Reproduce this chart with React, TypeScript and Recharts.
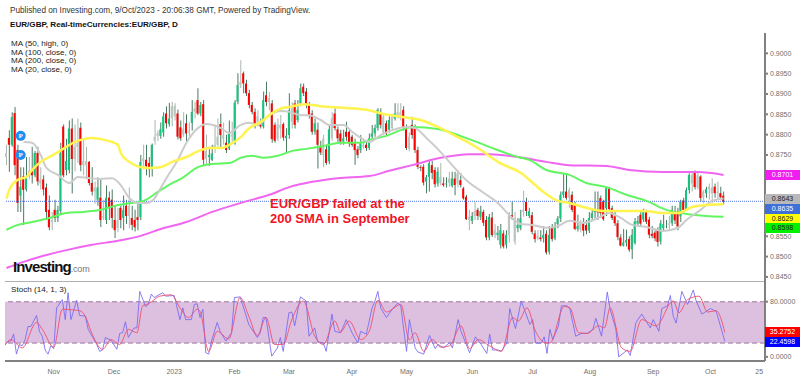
import React from "react";
import {
  ComposedChart,
  Bar,
  Line,
  Cell,
  XAxis,
  YAxis,
  ReferenceLine,
  ReferenceArea,
  ReferenceDot,
} from "recharts";

// prices are in pips (8635 = 0.8635)
const opens = [
  8745,8792,8775,8853,8762,8650,8697,8665,8700,8710,
  8700,8755,8690,8690,8670,8615,8585,8615,8595,8612,
  8820,8713,8713,8815,8740,8770,8817,8725,8735,8733,
  8681,8660,8640,8645,8595,8590,8645,8640,8590,8570,
  8620,8595,8625,8600,8595,8590,8597,8597,8735,8738,
  8730,8715,8785,8797,8797,8805,8852,8826,8840,8870,
  8852,8818,8800,8828,8805,8829,8856,8885,8852,8875,
  8740,8745,8738,8766,8775,8826,8799,8780,8766,8800,
  8779,8881,8922,8951,8926,8902,8873,8856,8830,8832,
  8820,8897,8880,8877,8824,8790,8825,8826,8791,8799,
  8865,8877,8836,8877,8918,8906,8873,8852,8807,8812,
  8769,8750,8764,8734,8791,8852,8813,8803,8783,8807,
  8807,8795,8780,8764,8762,8770,8775,8767,8795,8803,
  8816,8852,8805,8828,8812,8816,8840,8848,8855,8861,
  8816,8765,8824,8816,8762,8720,8721,8685,8696,8725,
  8713,8680,8696,8680,8678,8682,8674,8692,8680,8688,
  8668,8647,8590,8588,8600,8615,8598,8610,8590,8547,
  8596,8553,8553,8529,8557,8529,8553,8602,8537,8570,
  8570,8610,8635,8600,8602,8557,8545,8547,8545,8556,
  8512,8570,8545,8580,8594,8652,8660,8645,8652,8627,
  8568,8566,8581,8578,8564,8595,8609,8613,8644,8636,
  8619,8668,8619,8599,8582,8547,8527,8535,8543,8518,
  8533,8581,8603,8591,8609,8591,8556,8559,8566,8537,
  8570,8580,8578,8582,8611,8611,8599,8638,8617,8664,
  8701,8709,8670,8697,8645,8656,8666,8670,8672,8656,
  8656,8650,
];
const highs = [
  8775,8811,8855,8868,8775,8720,8720,8745,8745,8770,
  8760,8770,8720,8700,8680,8650,8610,8640,8625,8780,
  8825,8790,8835,8840,8825,8840,8830,8790,8770,8735,
  8720,8685,8695,8690,8640,8675,8660,8665,8625,8620,
  8625,8650,8640,8670,8625,8615,8635,8750,8775,8775,
  8745,8778,8836,8810,8830,8855,8870,8878,8881,8877,
  8862,8835,8855,8850,8830,8885,8880,8914,8880,8885,
  8800,8770,8775,8825,8840,8852,8830,8800,8835,8832,
  8885,8951,8983,8955,8935,8910,8880,8865,8860,8840,
  8906,8930,8905,8885,8830,8840,8848,8830,8816,8902,
  8880,8885,8885,8926,8926,8915,8880,8860,8840,8830,
  8785,8800,8775,8825,8855,8865,8820,8812,8812,8832,
  8812,8800,8790,8772,8799,8790,8785,8803,8824,8825,
  8865,8865,8850,8835,8845,8850,8877,8877,8877,8870,
  8825,8805,8844,8825,8770,8725,8727,8701,8737,8735,
  8720,8720,8730,8695,8695,8709,8709,8709,8713,8705,
  8672,8652,8615,8610,8635,8620,8625,8615,8600,8605,
  8610,8580,8575,8580,8565,8565,8610,8635,8610,8595,
  8615,8662,8645,8620,8610,8565,8565,8565,8575,8565,
  8575,8580,8585,8600,8660,8705,8705,8670,8660,8635,
  8603,8590,8595,8590,8610,8615,8660,8660,8650,8640,
  8672,8672,8625,8610,8590,8555,8568,8566,8550,8568,
  8595,8600,8610,8618,8615,8598,8575,8565,8572,8590,
  8603,8590,8600,8625,8625,8620,8640,8645,8670,8705,
  8705,8712,8706,8700,8664,8672,8680,8693,8680,8685,
  8672,8660,
];
const lows = [
  8725,8709,8770,8700,8610,8610,8578,8660,8690,8680,
  8695,8675,8665,8650,8590,8565,8565,8585,8585,8605,
  8695,8700,8705,8655,8710,8730,8710,8700,8690,8675,
  8650,8630,8625,8573,8590,8580,8590,8570,8546,8560,
  8570,8565,8580,8570,8565,8562,8565,8590,8715,8700,
  8695,8697,8775,8785,8790,8795,8815,8820,8820,8835,
  8788,8785,8795,8780,8795,8810,8840,8848,8845,8725,
  8725,8723,8735,8755,8770,8766,8775,8755,8762,8780,
  8775,8875,8915,8902,8895,8865,8850,8815,8820,8815,
  8815,8870,8860,8780,8780,8785,8790,8785,8754,8790,
  8815,8815,8830,8870,8895,8865,8840,8800,8800,8717,
  8750,8720,8726,8728,8785,8810,8780,8775,8775,8785,
  8770,8770,8726,8742,8755,8765,8760,8762,8790,8795,
  8810,8815,8800,8798,8805,8810,8835,8840,8835,8810,
  8762,8760,8790,8755,8715,8710,8675,8656,8660,8690,
  8670,8672,8675,8672,8670,8672,8670,8651,8670,8670,
  8640,8590,8565,8580,8590,8590,8590,8575,8540,8540,
  8548,8545,8540,8520,8520,8520,8535,8590,8530,8560,
  8565,8598,8600,8595,8555,8535,8540,8537,8535,8505,
  8505,8537,8540,8570,8585,8645,8640,8620,8610,8565,
  8562,8560,8550,8555,8558,8590,8595,8590,8595,8588,
  8600,8610,8590,8575,8540,8525,8525,8525,8512,8494,
  8530,8575,8575,8585,8580,8545,8545,8538,8525,8530,
  8565,8570,8565,8575,8580,8565,8585,8608,8612,8655,
  8660,8665,8665,8635,8631,8645,8640,8632,8645,8640,
  8640,8628,
];
const closes = [
  8755,8775,8843,8725,8632,8672,8664,8695,8710,8700,
  8755,8685,8680,8665,8610,8572,8590,8595,8615,8755,
  8700,8735,8815,8740,8770,8780,8725,8735,8725,8681,
  8660,8670,8670,8590,8600,8645,8622,8595,8565,8590,
  8590,8615,8600,8625,8578,8572,8590,8733,8742,8722,
  8715,8775,8795,8803,8813,8845,8828,8840,8870,8845,
  8795,8791,8815,8803,8808,8856,8865,8852,8873,8738,
  8760,8750,8754,8775,8795,8799,8790,8762,8803,8795,
  8879,8922,8930,8926,8902,8873,8856,8824,8845,8820,
  8885,8880,8890,8789,8785,8825,8815,8793,8797,8860,
  8832,8824,8861,8914,8902,8873,8848,8807,8828,8775,
  8756,8790,8730,8813,8840,8816,8791,8783,8791,8795,
  8779,8775,8762,8750,8779,8775,8767,8791,8803,8816,
  8861,8824,8844,8803,8836,8844,8852,8855,8840,8816,
  8767,8795,8799,8762,8721,8718,8682,8695,8730,8706,
  8678,8709,8680,8676,8680,8692,8692,8676,8705,8676,
  8643,8592,8598,8600,8612,8600,8612,8583,8547,8598,
  8553,8565,8559,8565,8525,8553,8602,8594,8594,8578,
  8594,8615,8612,8612,8561,8543,8550,8543,8553,8510,
  8553,8543,8575,8594,8652,8660,8644,8664,8615,8568,
  8575,8582,8564,8564,8595,8607,8615,8609,8607,8592,
  8668,8617,8595,8582,8548,8527,8535,8540,8517,8554,
  8586,8588,8581,8611,8586,8554,8551,8545,8536,8582,
  8580,8580,8582,8615,8589,8574,8636,8615,8664,8701,
  8680,8671,8700,8644,8660,8666,8672,8655,8656,8660,
  8646,8635,
];
// candles that read as washed-out grey in the picture
const fadedDays = [
  0,8,12,16,24,25,27,28,31,34,39,43,48,52,53,58,59,62,64,66,70,73,74,76,79,82,88,92,95,96,
  100,111,114,125,132,135,137,138,141,152,155,158,162,164,171,176,178,181,186,197,201,232,240,242,244,246,247,249,
];

const yellowDays = [0,1,4,7,9,12,15,18,21,24,27,30,33,36,39,40,43,47,50,54,58,63,68,71,75,78,82,85,89,93,97,99,104,110,118,126,132,139,145,151,158,165,172,181,183,188,193,197,203,209,216,223,230,235,240,245,251];
const yellowMa = [8642,8664,8689,8696,8713,8733,8745,8757,8770,8782,8789,8792,8789,8784,8775,8755,8733,8720,8718,8720,8733,8745,8762,8767,8767,8775,8794,8816,8831,8853,8866,8868,8875,8870,8866,8861,8851,8843,8836,8819,8794,8767,8733,8701,8689,8659,8637,8632,8620,8612,8612,8612,8607,8607,8622,8627,8629];
const greyDays = [6,9,12,14,18,22,25,29,33,37,40,43,46,49,51,55,56,60,63,67,70,75,78,82,85,88,92,96,99,103,106,110,113,118,121,124,127,131,135,140,143,147,152,156,161,167,172,176,180,184,189,193,197,202,207,211,215,219,224,230,235,238,243,247,251];
const greyMa = [8782,8780,8750,8718,8701,8681,8696,8693,8691,8693,8676,8644,8632,8632,8637,8681,8693,8738,8780,8816,8826,8816,8804,8824,8829,8824,8848,8858,8856,8848,8848,8836,8824,8824,8807,8792,8782,8799,8811,8819,8816,8792,8757,8725,8688,8657,8632,8602,8580,8578,8571,8575,8588,8583,8595,8607,8595,8578,8573,8563,8571,8590,8615,8637,8643];
const greenDays = [0,4,9,15,21,27,33,39,44,48,53,58,61,67,72,78,82,86,90,95,100,105,111,117,124,128,133,138,142,151,160,169,179,183,189,197,203,210,217,224,231,238,245,251];
const greenMa = [8566,8578,8585,8595,8607,8610,8615,8627,8632,8637,8659,8681,8691,8720,8728,8730,8743,8748,8743,8748,8760,8765,8772,8780,8780,8789,8797,8811,8819,8814,8794,8770,8745,8738,8713,8701,8681,8671,8652,8637,8615,8605,8600,8598];
const magentaDays = [0,6,13,21,30,39,47,54,63,72,83,92,99,107,116,127,134,142,152,162,169,179,189,197,210,218,230,242,251];
const magentaMa = [8472,8487,8502,8516,8529,8539,8551,8568,8585,8610,8634,8652,8671,8684,8693,8698,8711,8725,8743,8752,8752,8745,8733,8725,8723,8713,8708,8708,8701];

const stochKDays = [0,1,2,3,4,5,6,7,8,9,10,11,12,13,14,15,16,17,18,20,21,22,23,25,26,28,29,32,33,34,35,37,39,40,41,42,43,45,46,47,49,50,51,52,55,56,59,61,62,63,65,66,67,68,69,70,71,72,74,75,77,79,80,82,83,85,88,89,90,91,93,95,96,97,99,100,101,103,105,106,108,109,111,112,114,115,117,119,121,123,124,126,128,129,130,131,133,135,137,138,140,141,143,144,146,148,150,151,153,155,156,158,159,162,164,166,168,169,170,172,173,175,176,178,180,183,184,185,187,188,189,190,191,193,194,196,197,199,201,203,205,206,208,210,211,213,214,217,218,220,222,225,226,228,229,231,232,233,234,236,238,240,241,243,246,248,251];
const stochK = [18,22,23,33,4,18,16,25,44,44,52,60,37,30,10,4,16,12,71,83,54,93,54,82,60,59,40,18,8,10,28,24,11,34,35,51,28,42,42,95,73,76,91,86,93,88,89,54,71,54,54,76,77,57,69,6,4,23,50,37,23,35,86,87,74,47,28,35,57,57,1,13,28,8,64,65,45,87,81,30,42,22,20,8,62,37,35,54,35,20,37,33,71,81,95,71,57,69,78,74,8,54,13,7,4,31,12,18,13,21,13,54,37,6,29,18,5,33,10,10,8,20,70,41,81,47,54,20,20,29,5,40,25,45,74,74,69,30,34,34,40,56,30,94,69,40,0,10,2,50,62,42,54,37,70,74,89,59,49,95,76,97,81,62,70,66,22.4598];
const stochDDays = [0,2,6,11,13,17,20,24,26,28,30,34,37,40,43,46,48,50,54,58,61,64,67,68,71,74,78,82,85,88,91,94,97,100,104,108,111,115,117,120,124,127,130,133,138,141,143,146,149,152,155,159,162,165,169,173,177,179,182,185,188,190,195,197,200,203,207,209,211,215,218,222,227,233,235,238,242,245,248,251];
const stochD = [17,25,13,50,40,14,69,68,67,59,37,11,25,18,40,35,74,77,88,90,71,57,69,66,8,37,26,86,59,31,57,18,18,54,81,30,18,52,36,52,25,37,82,65,76,25,35,8,25,14,16,45,12,25,16,8,57,52,71,37,21,20,73,71,35,34,45,42,71,13,8,54,45,81,64,83,88,65,67,35.2752];

const tickDays = [17,38,59,80,99,121,140,163,184,204,226,246,263];
const tickLabels = ["Nov","Dec","2023","Feb","Mar","Apr","May","Jun","Jul","Aug","Sep","Oct","25"];
const priceTicks = [8450,8500,8550,8750,8800,8850,8900,8950,9000];
const stochTicks = [0,80];

const legendLines = ["MA (50, high, 0)","MA (100, close, 0)","MA (200, close, 0)","MA (20, close, 0)"];
const priceTags = [
  { label: "0.8701", top: 170, bg: "#f01ff0", color: "#fff" },
  { label: "0.8643", top: 194, bg: "#b8b8b8", color: "#222" },
  { label: "0.8635", top: 204, bg: "#3f6fd8", color: "#fff" },
  { label: "0.8629", top: 213.5, bg: "#ffff00", color: "#222" },
  { label: "0.8598", top: 223, bg: "#00f000", color: "#222" },
  { label: "35.2752", top: 327, bg: "#ff0000", color: "#fff" },
  { label: "22.4598", top: 337, bg: "#0000ff", color: "#fff" },
];

const SLOTS = 266;
const FONT = "'Liberation Sans', Arial, sans-serif";

const at = (days: number[], values: number[], day: number) => {
  const k = days.indexOf(day);
  return k < 0 ? null : values[k];
};

const rows = Array.from({ length: SLOTS }, (_, day) => ({
  day,
  wick: day < opens.length ? [lows[day], highs[day]] : null,
  body: day < opens.length ? [Math.min(opens[day], closes[day]), Math.max(opens[day], closes[day])] : null,
  yellow: at(yellowDays, yellowMa, day),
  grey: at(greyDays, greyMa, day),
  green: at(greenDays, greenMa, day),
  magenta: at(magentaDays, magentaMa, day),
  k: at(stochKDays, stochK, day),
  d: at(stochDDays, stochD, day),
}));

const bodyColor = (day: number) => {
  if (day >= opens.length) return "none";
  if (fadedDays.includes(day)) return "#b9c6be";
  return closes[day] >= opens[day] ? "#16c47c" : "#ff0000";
};
const wickColor = (day: number) => (fadedDays.includes(day) ? "#a9b5ad" : "#4b7a62");

const Abs = ({ left, top, style, children }: any) => (
  <div style={{ position: "absolute", left, top, whiteSpace: "pre", fontFamily: FONT, ...style }}>{children}</div>
);

export default function App() {
  const axisGrey = "#808080";
  const tickStyle = { fontSize: 7, fill: "#6f6f6f", fontFamily: FONT };
  return (
    <div style={{ position: "absolute", left: 0, top: 0, width: 800, height: 376, background: "#fff", overflow: "hidden" }}>
      <ComposedChart
        width={800}
        height={248}
        data={rows}
        margin={{ top: 0, right: 0, bottom: 0, left: 5 }}
        style={{ position: "absolute", left: 0, top: 33 }}
      >
        <XAxis xAxisId="wick" dataKey="day" hide />
        <XAxis xAxisId="body" dataKey="day" hide />
        <YAxis
          yAxisId="price"
          orientation="right"
          width={35}
          domain={[8440, 9050]}
          ticks={priceTicks}
          interval={0}
          tickFormatter={(v: number) => (v / 10000).toFixed(4)}
          tick={tickStyle}
          tickSize={3}
          stroke={axisGrey}
          strokeWidth={2}
        />
        <Bar xAxisId="wick" yAxisId="price" dataKey="wick" barSize={1} isAnimationActive={false}>
          {rows.map((r) => (
            <Cell key={r.day} fill={wickColor(r.day)} />
          ))}
        </Bar>
        <Bar xAxisId="body" yAxisId="price" dataKey="body" barSize={2} isAnimationActive={false}>
          {rows.map((r) => (
            <Cell key={r.day} fill={bodyColor(r.day)} />
          ))}
        </Bar>
        <ReferenceLine xAxisId="body" yAxisId="price" y={8636} stroke="#4f74dd" strokeDasharray="1 1" />
        <Line xAxisId="body" yAxisId="price" dataKey="magenta" type="monotone" connectNulls dot={false} stroke="#f066f0" strokeWidth={2} isAnimationActive={false} />
        <Line xAxisId="body" yAxisId="price" dataKey="green" type="monotone" connectNulls dot={false} stroke="#62f562" strokeWidth={2} isAnimationActive={false} />
        <Line xAxisId="body" yAxisId="price" dataKey="grey" type="monotone" connectNulls dot={false} stroke="#cccccc" strokeWidth={2} isAnimationActive={false} />
        <Line xAxisId="body" yAxisId="price" dataKey="yellow" type="monotone" connectNulls dot={false} stroke="#fff34f" strokeWidth={2.5} isAnimationActive={false} />
        <ReferenceDot xAxisId="body" yAxisId="price" x={5} y={8797} r={5} fill="#1e8ff0" stroke="none" label={{ value: "P", fill: "#fff", fontSize: 7, fontWeight: 700, position: "center" }} />
        <ReferenceDot xAxisId="body" yAxisId="price" x={5} y={8750} r={5} fill="#1e8ff0" stroke="none" label={{ value: "P", fill: "#fff", fontSize: 7, fontWeight: 700, position: "center" }} />
      </ComposedChart>

      <ComposedChart
        width={800}
        height={95}
        data={rows}
        margin={{ top: 0, right: 0, bottom: 0, left: 5 }}
        style={{ position: "absolute", left: 0, top: 281 }}
      >
        <XAxis
          dataKey="day"
          height={15}
          ticks={tickDays}
          interval={0}
          tickFormatter={(d: number) => tickLabels[tickDays.indexOf(d)]}
          tick={tickStyle}
          tickLine={false}
          stroke={axisGrey}
          strokeWidth={2}
        />
        <YAxis
          orientation="right"
          width={35}
          domain={[-6, 110]}
          ticks={stochTicks}
          interval={0}
          tickFormatter={(v: number) => v.toFixed(4)}
          tick={tickStyle}
          tickSize={3}
          stroke={axisGrey}
          strokeWidth={2}
        />
        <ReferenceArea y1={20} y2={80} fill="#ddbfe0" fillOpacity={1} stroke="none" />
        <ReferenceLine y={80} stroke="#b598b8" strokeWidth={1.5} strokeDasharray="5 3" />
        <ReferenceLine y={20} stroke="#b598b8" strokeWidth={1.5} strokeDasharray="5 3" />
        <ReferenceLine y={110} stroke="#b0b0b0" strokeWidth={2} />
        <Line dataKey="k" type="linear" connectNulls dot={false} stroke="#7468f2" strokeOpacity={0.85} strokeWidth={1} isAnimationActive={false} />
        <Line dataKey="d" type="monotone" connectNulls dot={false} stroke="#f0506e" strokeOpacity={0.9} strokeWidth={1} isAnimationActive={false} />
      </ComposedChart>

      <Abs left={10} top={6} style={{ fontSize: 8.2, lineHeight: "10px", color: "#333" }}>
        Published on Investing.com, 9/Oct/2023 - 20:06:38 GMT, Powered by TradingView.
      </Abs>
      <Abs left={10} top={20} style={{ fontSize: 8.1, lineHeight: "10px", fontWeight: 700, color: "#111" }}>
        EUR/GBP, Real-timeCurrencies:EUR/GBP, D
      </Abs>
      {legendLines.map((t, i) => (
        <Abs key={t} left={11} top={39 + i * 8.7} style={{ fontSize: 8.1, lineHeight: "10px", color: "#222" }}>
          {t}
        </Abs>
      ))}
      <Abs left={11} top={285} style={{ fontSize: 8.1, lineHeight: "10px", color: "#222" }}>
        Stoch (14, 1, 3)
      </Abs>
      <Abs left={270} top={196} style={{ fontSize: 13, lineHeight: "15px", fontWeight: 700, color: "#f01525" }}>
        {"EUR/GBP failed at the\n200 SMA in September"}
      </Abs>
      <Abs left={13} top={259} style={{ fontSize: 15, lineHeight: "16px", fontWeight: 700, color: "#111", letterSpacing: -0.9 }}>
        Investing<span style={{ fontSize: 9, fontWeight: 400, color: "#777", letterSpacing: -0.2 }}>.com</span>
      </Abs>
      {priceTags.map((t) => (
        <Abs
          key={t.label}
          left={765}
          top={t.top}
          style={{ width: 35, height: 9.5, lineHeight: "9.5px", fontSize: 7, textAlign: "center", background: t.bg, color: t.color }}
        >
          {t.label}
        </Abs>
      ))}
    </div>
  );
}
